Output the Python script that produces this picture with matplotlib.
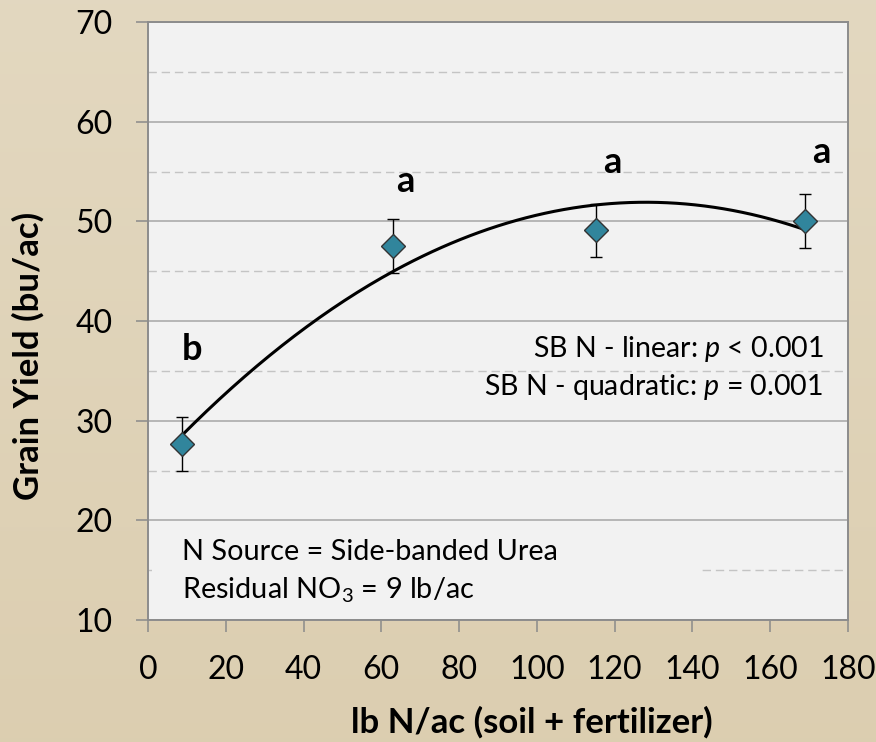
import matplotlib
matplotlib.use('Agg')
import matplotlib.pyplot as plt
import matplotlib.patches as mpatches
import numpy as np

# Datos
n_rate = [8.7, 63.0, 115.2, 168.9]        # lb N/ac (soil + fertilizer)
grain_yield = [27.7, 47.5, 49.1, 50.0]    # bu/ac
yield_se = [2.7, 2.7, 2.65, 2.7]
letters = ['b', 'a', 'a', 'a']
x_ticks = [0, 20, 40, 60, 80, 100, 120, 140, 160, 180]
y_ticks = [10, 20, 30, 40, 50, 60, 70]

plt.rcParams['font.family'] = ['Lato', 'DejaVu Sans']
plt.rcParams['mathtext.fontset'] = 'custom'
plt.rcParams['mathtext.rm'] = 'Lato'
plt.rcParams['mathtext.it'] = 'Lato:italic'
plt.rcParams['mathtext.bf'] = 'Lato:bold'

fig = plt.figure(figsize=(8.76, 7.42), dpi=100)

# Fondo beige con degradado
bg = fig.add_axes([0, 0, 1, 1], zorder=-10)
yy, xx = np.mgrid[0:1:200j, 0:1:200j]
top = np.array([0.890, 0.847, 0.753])
bot = np.array([0.851, 0.792, 0.667])
t = (0.7 * yy)[..., None]
img = top * (1 - t) + bot * t
bg.imshow(img, aspect='auto', extent=[0, 1, 0, 1], origin='upper')
bg.axis('off')

ax = fig.add_axes([148 / 876, 1 - 620 / 742, 700 / 876, 598 / 742])
ax.set_facecolor('#f2f2f2')
ax.set_xlim(0, 180)
ax.set_ylim(10, 70)
ax.set_xticks(x_ticks)
ax.set_yticks(y_ticks)
ax.set_yticks(np.array(y_ticks[:-1]) + 5, minor=True)
ax.tick_params(axis='both', which='major', length=8.5, width=1.1, color='#8a8a8a',
               labelsize=23, pad=17)
ax.tick_params(axis='y', which='minor', length=0)
ax.set_axisbelow(True)
ax.grid(axis='y', which='major', color='#a6a6a6', lw=1.1)
ax.grid(axis='y', which='minor', color='#c4c4c4', lw=1.0, ls=(0, (6, 3.5)))
for s in ax.spines.values():
    s.set_color('#8c8c8c')
    s.set_linewidth(1.4)

# Caja de texto que tapa la línea punteada
ax.add_patch(mpatches.Rectangle((1, 11), 141.5, 8.2, facecolor='#f2f2f2',
                                edgecolor='none', zorder=1))

# Línea de tendencia cuadrática
coef = np.polyfit(n_rate, grain_yield, 2)
xs = np.linspace(n_rate[0], n_rate[-1], 200)
ax.plot(xs, np.polyval(coef, xs), color='black', lw=2.2, zorder=3)

ax.errorbar(n_rate, grain_yield, yerr=yield_se, fmt='none', ecolor='black',
            elinewidth=1.0, capsize=4.3, capthick=1.0, zorder=2)
ax.plot(n_rate, grain_yield, ls='none', marker='D', ms=12, mfc='#31859c',
        mec='#333333', mew=1.0, zorder=4)

# Letras de significancia
letter_pos = [(11.3, 36.1), (66.1, 52.95), (119.3, 54.85), (173.1, 55.85)]
for (lx, ly), lt in zip(letter_pos, letters):
    ax.text(lx, ly, lt, ha='center', va='baseline', fontsize=26, fontweight='bold', zorder=5)

ax.text(173.6, 36.4, r'SB N - linear: $\mathit{p}$ < 0.001', ha='right', va='baseline', fontsize=20.5)
ax.text(173.6, 32.6, r'SB N - quadratic: $\mathit{p}$ = 0.001', ha='right', va='baseline', fontsize=20.5)
ax.text(8.7, 16.0, 'N Source = Side-banded Urea', ha='left', va='baseline', fontsize=20.8, zorder=5)
ax.text(8.7, 12.2, r'Residual NO$_{\mathregular{3}}$ = 9 lb/ac', ha='left', va='baseline',
        fontsize=20.8, zorder=5)

fig.text(532 / 876, 1 - 722 / 742, 'lb N/ac (soil + fertilizer)', ha='center', va='center',
         fontsize=25, fontweight='bold')
fig.text(28 / 876, 1 - 356 / 742, 'Grain Yield (bu/ac)', ha='center', va='center',
         rotation=90, fontsize=25, fontweight='bold')

plt.savefig('out.png', dpi=100)
